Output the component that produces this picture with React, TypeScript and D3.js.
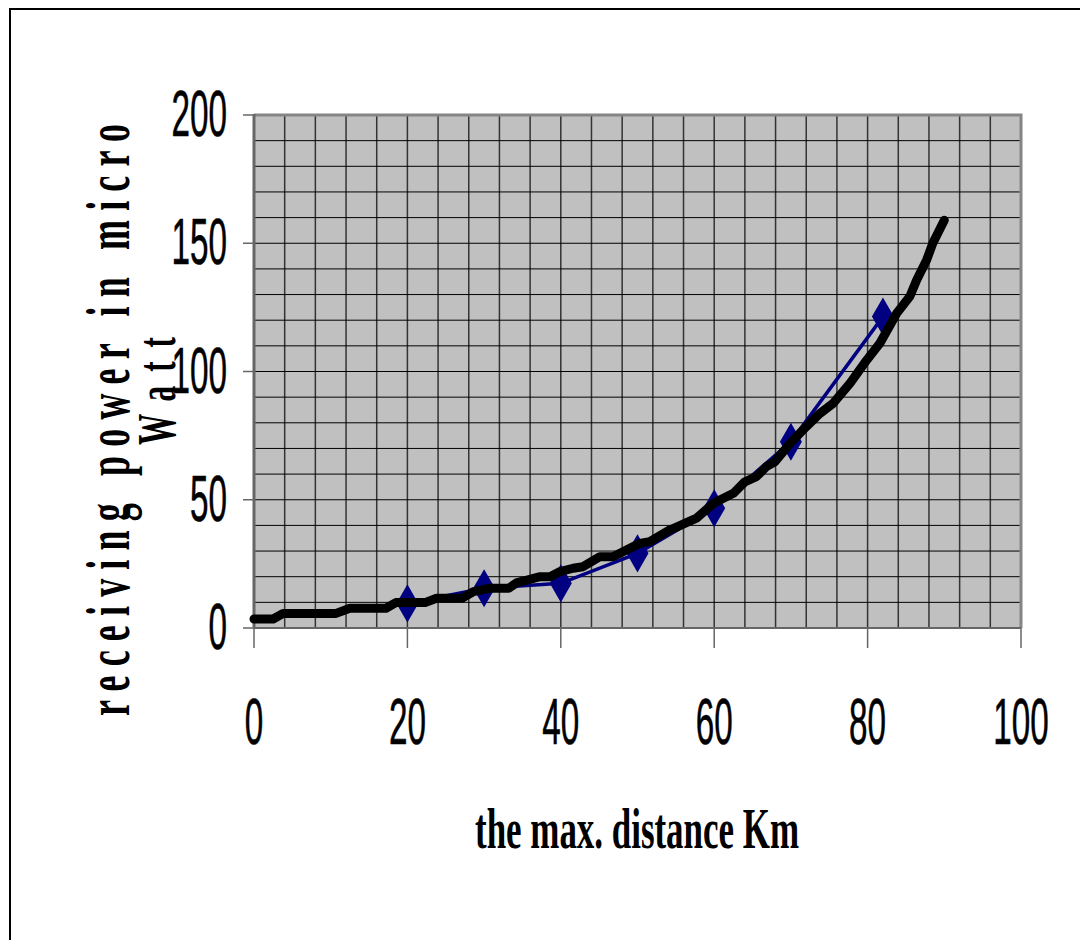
import React, { useEffect, useRef } from "react";
import * as d3 from "d3";

// measured series (diamond markers)
const measuredKm = [20, 30, 40, 50, 60, 70, 82];
const measuredPower = [9.6, 15.5, 17.4, 29.1, 46.7, 72.6, 121.4];

// calculated curve (thick black line)
const curveKm = [
  0, 2.5, 3.8, 10.7, 12.5, 17.2, 18.5, 22.3, 23.8, 27.1, 28.6, 30.8, 33.2, 34.3,
  35.6, 37.3, 38.6, 39.9, 41.6, 42.9, 45.1, 46.8, 50.3, 51.6, 54.2, 57.7, 59.9,
  62.5, 64, 65.5, 66.8, 67.9, 69.9, 72, 73.8, 75.5, 77.7, 79.9, 81.6, 83.8, 85.5,
  86.4, 87.7, 88.5, 90,
];
const curvePower = [
  3.5, 3.5, 5.7, 5.7, 7.7, 7.7, 9.9, 9.9, 11.6, 11.6, 14.2, 15.5, 15.5, 17.7,
  18.7, 20, 20, 22, 23.3, 23.9, 27.8, 27.8, 33, 33.7, 38.2, 42.8, 48.6, 52.5, 57,
  59, 62.9, 64.8, 72, 78.5, 83.7, 87.6, 95.4, 104.5, 111, 122.7, 129.2, 135.7,
  143.5, 150, 159,
];

const xTicks = [0, 20, 40, 60, 80, 100];
const yTicks = [0, 50, 100, 150, 200];

const App = () => {
  const ref = useRef<SVGSVGElement>(null);

  useEffect(() => {
    const svg = d3.select(ref.current);
    svg.selectAll("*").remove();

    const x = d3.scaleLinear().domain([0, 100]).range([254, 1021]);
    const y = d3.scaleLinear().domain([0, 200]).range([628, 115]);

    // outer frame
    svg
      .append("rect")
      .attr("x", 10)
      .attr("y", 9)
      .attr("width", 1200)
      .attr("height", 1100)
      .attr("fill", "none")
      .attr("stroke", "#000")
      .attr("stroke-width", 2);

    // plot area
    svg
      .append("rect")
      .attr("x", x(0))
      .attr("y", y(200))
      .attr("width", x(100) - x(0))
      .attr("height", y(0) - y(200))
      .attr("fill", "#c0c0c0");

    const grid = svg.append("g");
    grid
      .selectAll("line.v")
      .data(d3.range(4, 100, 4))
      .join("line")
      .attr("class", "v")
      .attr("x1", (d) => x(d))
      .attr("x2", (d) => x(d))
      .attr("y1", y(0))
      .attr("y2", y(200))
      .attr("stroke", "#333")
      .attr("stroke-width", 1.5);
    grid
      .selectAll("line.h")
      .data(d3.range(10, 200, 10))
      .join("line")
      .attr("class", "h")
      .attr("x1", x(0))
      .attr("x2", x(100))
      .attr("y1", (d) => y(d))
      .attr("y2", (d) => y(d))
      .attr("stroke", "#000")
      .attr("stroke-width", 1);

    // border
    svg
      .append("path")
      .attr("d", `M${x(0)},${y(200)}H${x(100)}V${y(0)}`)
      .attr("fill", "none")
      .attr("stroke", "#858585")
      .attr("stroke-width", 3);

    // axes
    svg
      .append("line")
      .attr("x1", x(0))
      .attr("x2", x(0))
      .attr("y1", y(200) - 1)
      .attr("y2", y(0))
      .attr("stroke", "#666")
      .attr("stroke-width", 3);
    svg
      .append("line")
      .attr("x1", x(0))
      .attr("x2", x(100))
      .attr("y1", y(0))
      .attr("y2", y(0))
      .attr("stroke", "#666")
      .attr("stroke-width", 2);

    svg
      .append("g")
      .selectAll("line")
      .data(yTicks)
      .join("line")
      .attr("x1", x(0) - 11)
      .attr("x2", x(0))
      .attr("y1", (d) => y(d))
      .attr("y2", (d) => y(d))
      .attr("stroke", "#666")
      .attr("stroke-width", 1.5);
    svg
      .append("g")
      .selectAll("line")
      .data(xTicks)
      .join("line")
      .attr("x1", (d) => x(d))
      .attr("x2", (d) => x(d))
      .attr("y1", y(0))
      .attr("y2", y(0) + 20)
      .attr("stroke", "#666")
      .attr("stroke-width", 1.5);

    const font = "'Liberation Sans', Arial, sans-serif";
    svg
      .append("g")
      .selectAll("text")
      .data(yTicks)
      .join("text")
      .attr("transform", (d) => `translate(227,${y(d) + 21}) scale(0.52,1)`)
      .attr("text-anchor", "end")
      .attr("font-family", font)
      .attr("font-size", 64)
      .attr("stroke", "#000")
      .attr("stroke-width", 0.6)
      .text((d) => d);
    svg
      .append("g")
      .selectAll("text")
      .data(xTicks)
      .join("text")
      .attr("transform", (d) => `translate(${x(d)},744) scale(0.52,1)`)
      .attr("text-anchor", "middle")
      .attr("font-family", font)
      .attr("font-size", 64)
      .attr("stroke", "#000")
      .attr("stroke-width", 0.6)
      .text((d) => d);

    // series
    const measured = measuredKm.map((k, i) => [k, measuredPower[i]] as [number, number]);
    const curve = curveKm.map((k, i) => [k, curvePower[i]] as [number, number]);
    const line = d3
      .line<[number, number]>()
      .x((d) => x(d[0]))
      .y((d) => y(d[1]));

    svg
      .append("path")
      .attr("d", line(measured))
      .attr("fill", "none")
      .attr("stroke", "#000080")
      .attr("stroke-width", 3.5);
    svg
      .append("g")
      .selectAll("path")
      .data(measured)
      .join("path")
      .attr("transform", (d) => `translate(${x(d[0])},${y(d[1])})`)
      .attr("d", d3.symbol().type(d3.symbolDiamond).size(420)())
      .attr("fill", "#000080");

    svg
      .append("path")
      .attr("d", line(curve))
      .attr("fill", "none")
      .attr("stroke", "#000")
      .attr("stroke-width", 9)
      .attr("stroke-linejoin", "round")
      .attr("stroke-linecap", "round");

    // titles
    const serif = "'Liberation Serif', 'Times New Roman', serif";
    svg
      .append("text")
      .attr("x", 637)
      .attr("y", 848)
      .attr("text-anchor", "middle")
      .attr("font-family", serif)
      .attr("font-weight", "bold")
      .attr("font-size", 56)
      .attr("textLength", 324)
      .attr("lengthAdjust", "spacingAndGlyphs")
      .text("the max. distance Km");

    // y title: condensed glyphs, widened letter spacing
    const sx = 0.58;
    svg
      .append("text")
      .attr("transform", `translate(129,420) rotate(-90) scale(${sx},1)`)
      .attr("text-anchor", "middle")
      .attr("font-family", serif)
      .attr("font-weight", "bold")
      .attr("font-size", 62)
      .attr("textLength", 592 / sx)
      .attr("lengthAdjust", "spacing")
      .text("receiving power in micro");

    svg
      .append("text")
      .attr("transform", `translate(175,391) rotate(-90) scale(${sx},1)`)
      .attr("text-anchor", "middle")
      .attr("font-family", serif)
      .attr("font-weight", "bold")
      .attr("font-size", 54)
      .attr("textLength", 108 / sx)
      .attr("lengthAdjust", "spacing")
      .text("Watt");
  });

  return (
    <svg
      ref={ref}
      width={1080}
      height={940}
      style={{ position: "absolute", left: 0, top: 0, display: "block", background: "#fff" }}
    ></svg>
  );
};

export default App;
